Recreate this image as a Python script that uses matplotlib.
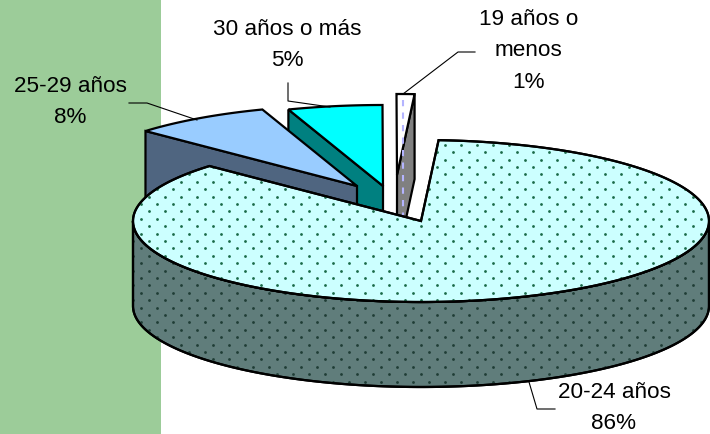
import numpy as np
import matplotlib
matplotlib.use('Agg')
import matplotlib.pyplot as plt
from matplotlib.patches import Polygon, Rectangle

plt.rcParams['font.family'] = ['Liberation Sans', 'DejaVu Sans']

# Shares of each age group, in drawing order round the pie (clockwise)
age_labels = ['20-24 años', '25-29 años', '30 años o más', '19 años o\nmenos']
shares = [85.9, 7.8, 5.3, 1.0]

# Pie geometry in pixels
rx, ry = 288, 81
depth = 85
apex = [(421, 221), (357, 186), (383, 186), (397, 175)]
top_colors = ['#ccffff', '#99ccff', '#00ffff', '#ffffff']
side_colors = ['#607d7b', '#4f6580', '#008080', '#808080']
start_angle = 86.5


def arc(center, t0, t1, n=200, drop=0):
    t = np.radians(np.linspace(t0, t1, n))
    return np.column_stack([center[0] + rx * np.cos(t), center[1] - ry * np.sin(t) + drop])


fig = plt.figure(figsize=(7.1, 4.34), dpi=100)
ax = fig.add_axes([0, 0, 1, 1])
ax.set_xlim(0, 710)
ax.set_ylim(434, 0)
ax.axis('off')

ax.add_patch(Rectangle((0, 0), 161, 434, color='#9ccc99', lw=0, zorder=0))

# slice angles, going clockwise from the start angle
sweeps = [s / sum(shares) * 360 for s in shares]
ends = start_angle - np.cumsum(sweeps)
starts = ends + np.array(sweeps)

lw = 1.6
# small exploded slices first, right to left, then the big one on top
for z, i in enumerate([3, 2, 1]):
    c = apex[i]
    t0, t1 = starts[i], ends[i]
    # visible cut face: start edge for the left slices, end edge for the thin one
    rim_t = t1 if i == 3 else t0
    rim = arc(c, rim_t, rim_t, n=1)[0]
    face = [c, rim, (rim[0], rim[1] + depth), (c[0], c[1] + depth)]
    ax.add_patch(Polygon(face, closed=True, fc=side_colors[i], ec='black', lw=lw, zorder=2 + z))
    top = np.vstack([[c], arc(c, t0, t1, n=40)])
    ax.add_patch(Polygon(top, closed=True, fc=top_colors[i], ec='black', lw=lw, zorder=2 + z))

# dashes in the thin slice
ax.plot([403, 403], [100, 216], color='#b4b4ff', lw=1.5, ls=(0, (3, 3)), zorder=2.5)

# big slice: wall then top
wall = np.vstack([arc(apex[0], 180, 360), arc(apex[0], 360, 180, drop=depth)])
wall_patch = Polygon(wall, closed=True, fc=side_colors[0], ec='black', lw=lw, zorder=7)
ax.add_patch(wall_patch)
top = np.vstack([[apex[0]], arc(apex[0], starts[0], ends[0], n=400)])
top_patch = Polygon(top, closed=True, fc=top_colors[0], ec='black', lw=lw, zorder=8)

# dotted texture, staggered rows
rows = np.arange(130, 400, 7.4)
xs, ys = [], []
for j, y in enumerate(rows):
    x = np.arange(125 + (j % 2) * 8, 715, 16)
    xs.extend(x)
    ys.extend([y] * len(x))
dots = ax.scatter(xs, ys, s=4, color='#1f3d35', lw=0, zorder=7.5)
dots.set_clip_path(wall_patch)

ax.add_patch(top_patch)
dots2 = ax.scatter(xs, ys, s=4, color='#1b6a48', lw=0, zorder=8.5)
dots2.set_clip_path(top_patch)
# redraw outline above the dots
ax.add_patch(Polygon(top, closed=True, fc='none', ec='black', lw=lw, zorder=9))
ax.add_patch(Polygon(wall, closed=True, fc='none', ec='black', lw=lw, zorder=7.6))

# leader lines
leaders = [
    ([555, 537, 529], [409, 409, 382]),
    ([129, 147, 197], [103, 103, 120]),
    ([288, 288, 330], [83, 101, 107]),
    ([475, 458, 403], [52, 52, 94]),
]
for lx, ly in leaders:
    ax.plot(lx, ly, color='black', lw=0.8, zorder=10)

# labels
positions = [(614, 408), (70, 102), (287, 45), (529, 51)]
for i, (x, y) in enumerate(positions):
    ax.text(x, y, f'{age_labels[i]}\n{shares[i]:.0f}%', ha='center', va='center',
            fontsize=16.2, color='black', linespacing=1.65, zorder=11)

fig.savefig('out.png', dpi=100)
